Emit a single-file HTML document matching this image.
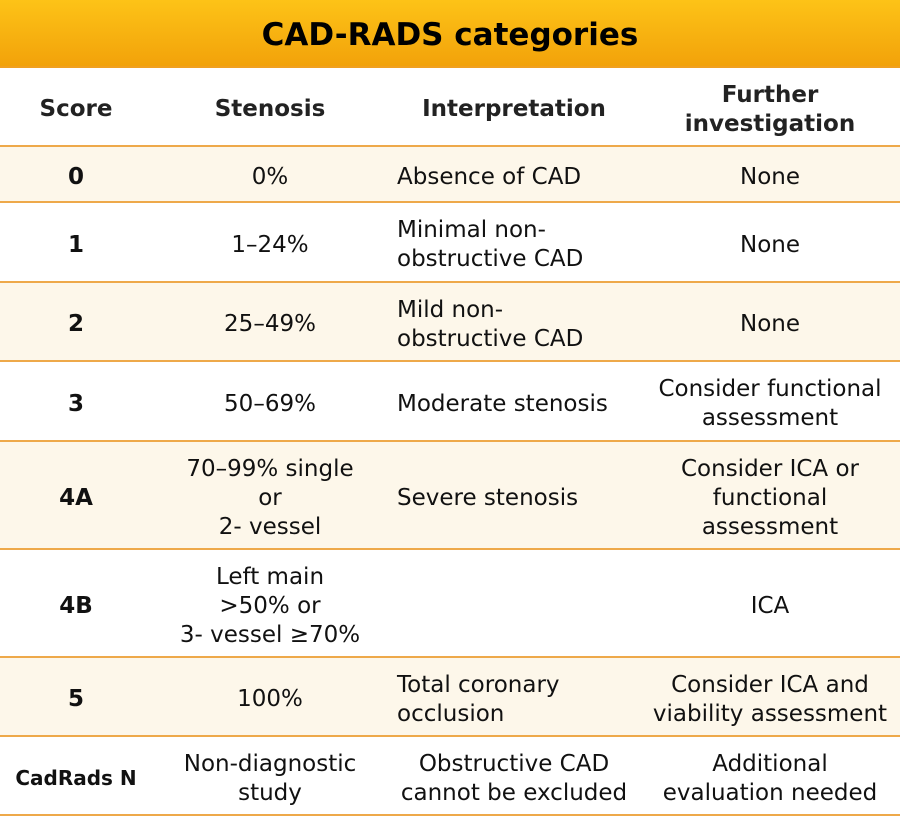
<!DOCTYPE html>
<html><head><meta charset="utf-8"><style>
*{margin:0;padding:0;box-sizing:border-box}
body{width:900px;height:818px;background:#fff;font-family:"DejaVu Sans","Liberation Sans",sans-serif;color:#111;font-size:23px;overflow:hidden}
.title{height:68px;background:linear-gradient(#fdc317,#f2a20a);display:flex;align-items:center;justify-content:center;font-weight:bold;font-size:31px;color:#000;border-bottom:2px solid #f0a020;padding-top:3px}
.row{display:flex;border-bottom:2px solid #eea94a;line-height:29px}
.row.s{background:#fdf7ea}
.c{display:flex;align-items:center;justify-content:center;text-align:center;padding-top:6px}
.c1{width:152px;font-weight:bold}
.c2{width:236px}
.c3{width:252px;justify-content:flex-start;text-align:left;padding-left:9px}
.c4{width:260px}
.hd .c{font-weight:bold;color:#222}
.hd .c3{justify-content:center;padding-left:0}
</style></head><body>
<div class="title">CAD-RADS categories</div>
<div class="row hd" style="height:79px"><div class="c c1">Score</div><div class="c c2">Stenosis</div><div class="c c3">Interpretation</div><div class="c c4">Further<br>investigation</div></div>
<div class="row s" style="height:56px"><div class="c c1">0</div><div class="c c2">0%</div><div class="c c3">Absence of CAD</div><div class="c c4">None</div></div>
<div class="row" style="height:80px"><div class="c c1">1</div><div class="c c2">1–24%</div><div class="c c3">Minimal non-<br>obstructive CAD</div><div class="c c4">None</div></div>
<div class="row s" style="height:79px"><div class="c c1">2</div><div class="c c2">25–49%</div><div class="c c3">Mild non-<br>obstructive CAD</div><div class="c c4">None</div></div>
<div class="row" style="height:80px"><div class="c c1">3</div><div class="c c2">50–69%</div><div class="c c3">Moderate stenosis</div><div class="c c4">Consider functional<br>assessment</div></div>
<div class="row s" style="height:108px"><div class="c c1">4A</div><div class="c c2">70–99% single<br>or<br>2- vessel</div><div class="c c3">Severe stenosis</div><div class="c c4">Consider ICA or<br>functional<br>assessment</div></div>
<div class="row" style="height:108px"><div class="c c1">4B</div><div class="c c2">Left main<br>&gt;50% or<br>3- vessel ≥70%</div><div class="c c3"></div><div class="c c4">ICA</div></div>
<div class="row s" style="height:79px"><div class="c c1">5</div><div class="c c2">100%</div><div class="c c3">Total coronary<br>occlusion</div><div class="c c4">Consider ICA and<br>viability assessment</div></div>
<div class="row" style="height:79px"><div class="c c1" style="font-size:20px">CadRads N</div><div class="c c2">Non-diagnostic<br>study</div><div class="c c3" style="justify-content:center;text-align:center;padding-left:0">Obstructive CAD<br>cannot be excluded</div><div class="c c4">Additional<br>evaluation needed</div></div>
</body></html>
